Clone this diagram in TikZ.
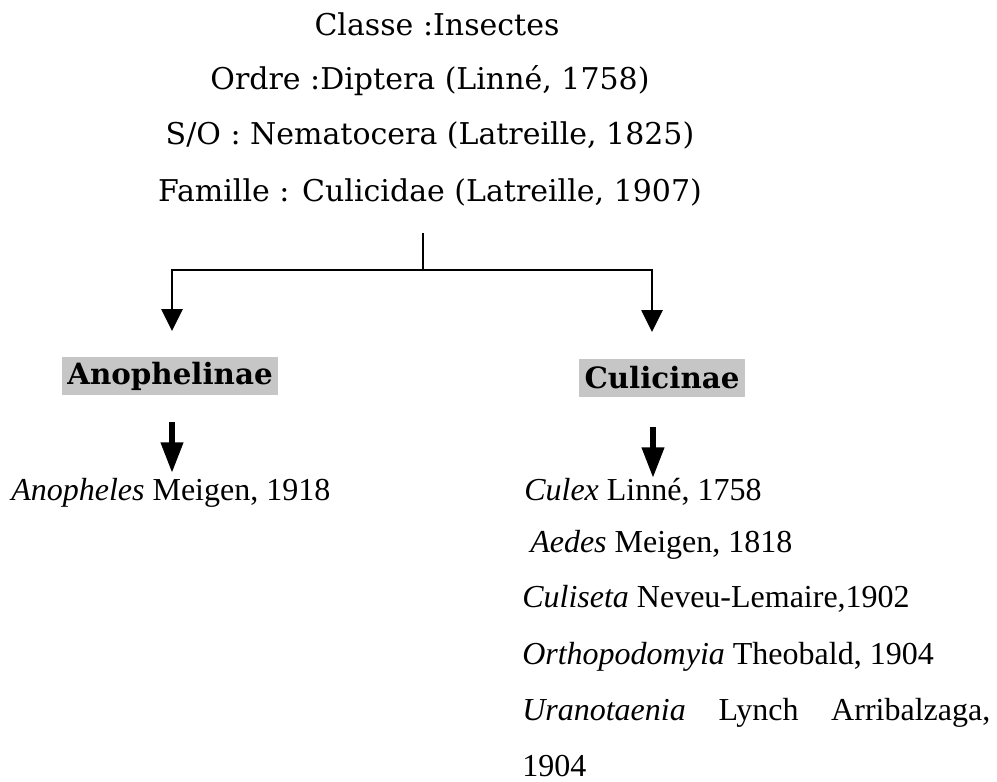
\documentclass[tikz,border=0pt]{standalone}
\usepackage{fontspec}
\setmainfont{Liberation Serif}
\newfontfamily\bookfont{DejaVu Serif}
\usetikzlibrary{arrows.meta}

\begin{document}
\begin{tikzpicture}[x=0.75pt,y=-0.75pt,
  rang/.style={font=\bookfont\fontsize{22.5}{27}\selectfont,anchor=base,inner sep=0pt},
  sousfam/.style={font=\bookfont\bfseries\fontsize{22}{26}\selectfont,fill=gray!45,
    inner xsep=4pt,inner ysep=0pt,minimum height=28.5pt},
  genre/.style={font=\fontsize{24}{28}\selectfont,anchor=base west,inner sep=0pt},
  fleche/.style={line width=1.2pt,-{Triangle[length=16.5pt,width=16pt]}},
  grosse/.style={line width=4.5pt,-{Triangle[length=23pt,width=16pt]}}]
\useasboundingbox (0,0) rectangle (997,782);
% classification
\node[rang] (classe) at (437,35) {Classe :Insectes};
\node[rang] (ordre) at (430,89) {Ordre :Diptera (Linné, 1758)};
\node[rang] (sordre) at (430,144) {S/O : Nematocera (Latreille, 1825)};
\node[rang] (famille) at (430,201) {Famille : Culicidae (Latreille, 1907)};
% sous-familles
\node[sousfam] (anoph) at (170,376) {Anophelinae};
\node[sousfam] (culic) at (662,378) {Culicinae};
% genres
\node[genre] (anopheles) at (11,500) {\textit{Anopheles} Meigen, 1918};
\node[genre] (culex) at (524,500) {\textit{Culex} Linné, 1758};
\node[genre] (aedes) at (530,552) {\textit{Aedes} Meigen, 1818};
\node[genre] (culiseta) at (522,607) {\textit{Culiseta} Neveu-Lemaire,1902};
\node[genre] (ortho) at (522,664) {\textit{Orthopodomyia} Theobald, 1904};
\node[genre] (urano) at (522,720) {\makebox[351pt][s]{\textit{Uranotaenia} Lynch Arribalzaga,}};
\node[genre] (annee) at (522,776) {1904};
% branches
\coordinate (tronc) at (423,233);
\coordinate (noeud) at (423,270);
\coordinate (pointeA) at (172,331);
\coordinate (pointeC) at (652,332);
\draw[line width=1.2pt] (tronc) -- (noeud);
\draw[fleche] (noeud) -| (pointeA);
\draw[fleche] (noeud) -| (pointeC);
\coordinate (departA) at (172,422);
\coordinate (finA) at (172,473);
\coordinate (departC) at (653,427);
\coordinate (finC) at (653,478);
\draw[grosse] (departA) -- (finA);
\draw[grosse] (departC) -- (finC);
\end{tikzpicture}
\end{document}
